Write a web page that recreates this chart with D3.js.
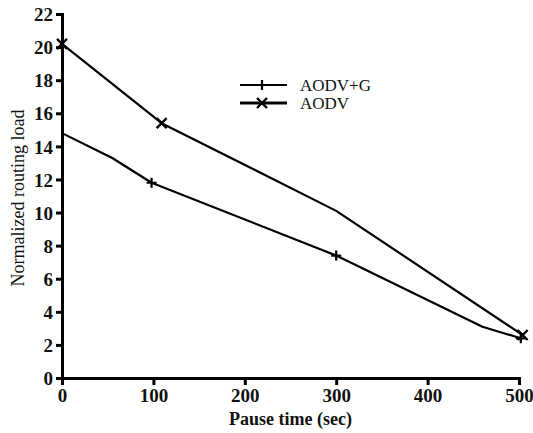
<!DOCTYPE html>
<html>
<head>
<meta charset="utf-8">
<script src="https://cdn.jsdelivr.net/npm/d3@7"></script>
<style>
  body { margin: 0; background: #fff; }
  svg { display: block; }
</style>
</head>
<body>
<div id="chart"></div>
<script>
// values (kink points without marker included)
const pauseTimes = [0, 100, 200, 300, 400, 500];
const loadTicks = [0, 2, 4, 6, 8, 10, 12, 14, 16, 18, 20, 22];

const aodvG = [
  { x: 0, y: 14.8, mark: false },
  { x: 55, y: 13.3, mark: false },
  { x: 98, y: 11.8, mark: true },
  { x: 300, y: 7.4, mark: true },
  { x: 460, y: 3.1, mark: false },
  { x: 502, y: 2.4, mark: true }
];
const aodv = [
  { x: 0, y: 20.2, mark: true },
  { x: 109, y: 15.4, mark: true },
  { x: 300, y: 10.1, mark: false },
  { x: 504, y: 2.6, mark: true }
];

const width = 533, height = 433;
const margin = { top: 14, right: 14, bottom: 55, left: 62 };

const x = d3.scaleLinear([0, 500], [margin.left, 519]);
const y = d3.scaleLinear([0, 22], [378, margin.top]);

const svg = d3.select("#chart").append("svg")
  .attr("width", width).attr("height", height)
  .style("font-family", "'Liberation Serif', 'DejaVu Serif', serif");

// axes
const xAxis = svg.append("g")
  .attr("transform", `translate(0,${y(0)})`)
  .call(d3.axisBottom(x).tickValues(pauseTimes).tickSizeOuter(0).tickSize(7).tickPadding(4));
const yAxis = svg.append("g")
  .attr("transform", `translate(${x(0)},0)`)
  .call(d3.axisLeft(y).tickValues(loadTicks).tickSizeOuter(0).tickSize(6).tickPadding(3));

for (const g of [xAxis, yAxis]) {
  g.select(".domain").attr("stroke", "#000").attr("stroke-width", 3);
  g.selectAll(".tick line").attr("stroke", "#000").attr("stroke-width", 3);
  g.selectAll(".tick text")
    .attr("fill", "#111")
    .style("font-family", "'Liberation Serif', serif")
    .style("font-size", "19px")
    .style("font-weight", "bold");
}
yAxis.selectAll(".tick text").attr("dy", "0.35em");

// axis titles
svg.append("text")
  .attr("x", (x(0) + x(500)) / 2).attr("y", 425)
  .attr("text-anchor", "middle")
  .style("font-size", "18px").style("font-weight", "bold")
  .attr("fill", "#111")
  .text("Pause time (sec)");

svg.append("text")
  .attr("transform", `translate(24,${(y(0) + y(22)) / 2 + 2}) rotate(-90)`)
  .attr("text-anchor", "middle")
  .style("font-size", "18px")
  .attr("fill", "#111")
  .text("Normalized routing load");

const line = d3.line().x(d => x(d.x)).y(d => y(d.y));

function plus(g, cx, cy) {
  g.append("path")
    .attr("d", `M${cx - 5},${cy}H${cx + 5}M${cx},${cy - 5}V${cy + 5}`)
    .attr("stroke", "#000").attr("stroke-width", 2.2);
}
function cross(g, cx, cy) {
  const r = 5;
  g.append("path")
    .attr("d", `M${cx - r},${cy - r}L${cx + r},${cy + r}M${cx - r},${cy + r}L${cx + r},${cy - r}`)
    .attr("stroke", "#000").attr("stroke-width", 2.4);
}

const series = [
  { name: "AODV+G", data: aodvG, marker: plus },
  { name: "AODV", data: aodv, marker: cross }
];

const plot = svg.append("g");
series.forEach(s => {
  plot.append("path")
    .datum(s.data)
    .attr("d", line)
    .attr("fill", "none")
    .attr("stroke", "#000")
    .attr("stroke-width", 2.2)
    .attr("stroke-linejoin", "round");
  s.data.filter(d => d.mark).forEach(d => s.marker(plot, x(d.x), y(d.y)));
});

// legend
const legend = svg.append("g");
series.forEach((s, i) => {
  const ly = 85 + i * 18;
  legend.append("line")
    .attr("x1", 240).attr("x2", 287).attr("y1", ly).attr("y2", ly)
    .attr("stroke", "#000").attr("stroke-width", i === 0 ? 2.2 : 3);
  s.marker(legend, 262, ly);
  legend.append("text")
    .attr("x", 300).attr("y", ly).attr("dy", "0.35em")
    .style("font-size", "17px")
    .attr("fill", "#111")
    .text(s.name);
});
</script>
</body>
</html>
